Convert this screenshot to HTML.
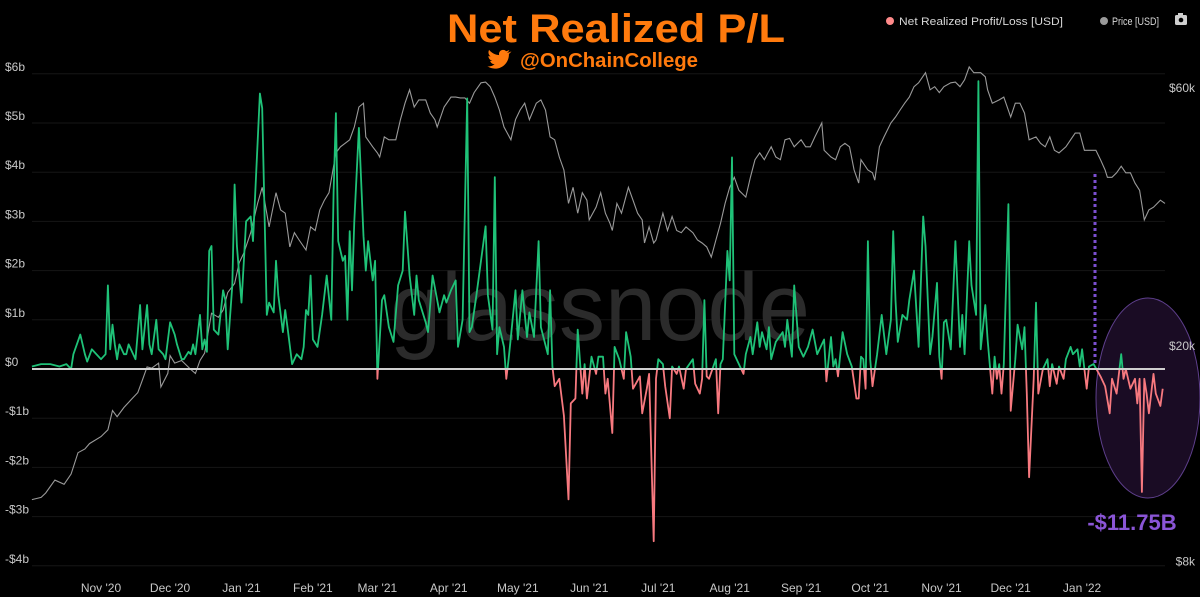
<!DOCTYPE html>
<html><head><meta charset="utf-8"><style>
html,body{margin:0;padding:0;background:#000;}
svg{display:block;font-family:"Liberation Sans",sans-serif;}
</style></head><body>
<svg id="chart" width="1200" height="597" viewBox="0 0 1200 597" xmlns="http://www.w3.org/2000/svg">
<rect width="1200" height="597" fill="#000"/>
<g id="grid"></g>
<text x="600" y="340" text-anchor="middle" font-size="96" fill="#2b2b2b" textLength="420" lengthAdjust="spacingAndGlyphs">glassnode</text>
<g id="annot-bg">
<ellipse cx="1148" cy="398" rx="52" ry="100" fill="#1a0c24" stroke="#5e3f8c" stroke-width="1"/>
</g>
<defs>
<clipPath id="clipPos"><rect x="0" y="0" width="1200" height="369"/></clipPath>
<clipPath id="clipNeg"><rect x="0" y="369" width="1200" height="300"/></clipPath>
</defs>
<g id="series"></g>
<line x1="1095" y1="174" x2="1095" y2="366" stroke="#7b4fd0" stroke-width="3" stroke-dasharray="3,3"/>
<text x="1132" y="530" text-anchor="middle" font-size="22" font-weight="bold" fill="#8a55d6">-$11.75B</text>
<g id="axes"></g>
<text x="616" y="42" text-anchor="middle" font-size="40" font-weight="bold" fill="#ff7a0d" textLength="338" lengthAdjust="spacingAndGlyphs">Net Realized P/L</text>
<g>
<path d="M510 52 c-1 .5 -2 .8 -3 .9 1-.7 2-1.7 2.3-2.9 -1 .6 -2 1 -3.2 1.2 -2-2.1-5.6-1.5-6.8 1.2 -.4 .9 -.4 1.9 -.2 2.7 -4.1-.2 -7.6-2.2-10-5.2 -1.3 2.300 -.6 5.1 1.5 6.6 -.8 0 -1.5-.3 -2.2-.6 0 2.4 1.6 4.4 3.9 4.9 -.7 .2 -1.5 .2 -2.2 .1 .6 2 2.5 3.4 4.6 3.4 -2 1.6 -4.6 2.4 -7.3 2.1 2.2 1.4 4.8 2.2 7.5 2.2 9.1 0 14.3-7.7 14-14.6 1-.7 1.8-1.6 2.5-2.6z" fill="#ff7a0d"/>
<text x="609" y="67" text-anchor="middle" font-size="20" font-weight="bold" fill="#ff7a0d" textLength="178" lengthAdjust="spacingAndGlyphs">@OnChainCollege</text>
</g>
<g>
<g>
<circle cx="890" cy="21" r="4" fill="#ff8a8a"/>
<text x="899" y="25" font-size="11" fill="#d8d8d8" textLength="164" lengthAdjust="spacingAndGlyphs">Net Realized Profit/Loss [USD]</text>
</g>
<g>
<circle cx="1104" cy="21" r="4" fill="#9a9a9a"/>
<text x="1112" y="25" font-size="11" fill="#d8d8d8" textLength="47" lengthAdjust="spacingAndGlyphs">Price [USD]</text>
</g>
<g>
<rect x="1175" y="15" width="12" height="10" rx="1.5" fill="#cfcfcf"/>
<rect x="1178" y="13" width="5" height="3" fill="#cfcfcf"/>
<circle cx="1181" cy="20" r="2.3" fill="#000"/>
</g>
</g>
</svg>
<script>
// P/L: days since 2020-10-01, values in $ billions
const plDays=[1,5,9,13,16,18,19,22,24,25,27,29,31,33,34,35,36,37,38,39,41,42,43,45,46,48,49,51,52,53,55,56,58,59,61,63,64,66,67,69,70,71,72,74,75,76,77,78,79,80,82,84,85,86,88,89,90,92,94,96,97,100,101,103,104,106,107,108,110,111,112,114,116,118,119,120,121,122,123,125,127,129,131,132,133,134,136,137,138,139,140,141,143,145,146,147,149,150,151,153,154,156,158,160,162,163,165,167,168,169,172,173,175,177,178,180,181,183,185,186,188,190,191,192,194,196,198,199,201,202,203,204,206,207,208,209,211,212,214,216,217,219,221,222,225,226,227,228,230,232,234,235,237,238,240,241,242,244,246,247,249,250,251,253,254,256,258,259,261,262,265,266,268,269,271,272,273,275,276,278,279,281,282,284,285,288,289,291,292,293,294,295,298,299,300,301,303,304,305,306,308,310,311,313,314,316,317,318,320,321,322,324,327,328,329,331,332,334,336,338,340,342,345,346,348,349,350,351,353,355,357,359,360,361,362,363,364,365,366,368,370,372,374,375,376,377,379,381,382,384,386,388,389,391,392,394,395,396,397,398,400,402,404,405,406,408,409,411,412,413,415,416,418,419,420,421,422,423,425,426,428,429,431,432,433,434,436,437,438,440,442,443,444,446,447,449,450,452,453,455,456,457,459,460,462,465,467,469,470,472,474,475,476,478,480,481,482,483,484,485,486,488,489,491,492];
const plVals=[0.05,0.1,0.1,0.05,0.1,0,0.3,0.7,0.3,0.15,0.4,0.3,0.2,0.3,1.7,0.4,0.9,0.5,0.2,0.5,0.3,0.3,0.5,0.3,0.2,1.3,0.4,1.3,0.5,0.3,1.0,0.4,0.3,0.2,0.95,0.7,0.5,0.2,0.2,0.35,0.3,0.5,0.3,1.1,0.4,0.6,0.35,2.4,2.5,0.8,0.7,1.6,1.4,0.4,1.7,3.75,2.5,1.35,3.0,3.1,2.6,5.6,5.3,1.1,1.35,1.15,2.2,1.5,0.75,1.2,0.85,0.1,0.3,0.2,0.45,1.2,1.1,1.9,0.6,0.45,1.1,1.9,1.0,3.6,5.2,2.6,2.2,2.3,1.0,2.8,1.6,3.0,4.9,2.7,2.0,2.6,1.8,2.2,-0.2,1.4,1.5,0.85,0.55,1.7,2.0,3.2,1.9,1.1,1.9,1.4,0.95,0.75,1.9,1.4,1.15,1.5,1.35,1.6,1.8,0.45,1.0,5.5,0.75,0.85,1.5,2.2,2.9,1.5,0.8,3.9,0.3,0.85,0.45,-0.2,0.2,0.65,1.6,0.6,1.6,0.65,1.15,0.65,2.6,0.85,0.3,1.6,0.05,-0.35,-0.2,-0.95,-2.65,-0.7,-0.6,0.8,-0.5,0.1,-0.6,0.25,-0.1,0.25,0.25,-0.5,-0.2,-1.3,0.45,0.2,-0.2,0.75,0.25,-0.4,-0.15,-0.9,-0.4,-0.1,-3.5,-0.2,0.2,0.1,-0.35,-1.0,0.05,-0.1,0.05,-0.4,0,0.2,-0.3,-0.5,-0.2,1.4,-0.15,-0.2,0.2,-0.9,0.1,0.2,2.4,1.8,4.3,0.3,0.1,-0.1,0.3,0.65,0.3,0.95,0.45,0.75,0.4,0.85,0.2,0.55,0.75,0.45,1.0,0.25,1.7,0.45,0.25,0.45,0.8,0.3,0.6,-0.25,0.65,0.05,0.2,-0.15,0.75,0.3,0.05,-0.6,-0.6,0.25,0.2,-0.4,2.6,0.2,-0.35,0.3,1.1,0.3,1.0,2.8,1.4,0.55,1.1,1.0,1.4,2.0,0.45,3.1,2.5,0.3,0.65,1.75,0.25,-0.2,0.95,1.0,0.4,2.6,0.45,1.1,0.3,2.6,1.7,1.1,5.85,0.4,1.3,0.6,-0.5,0.25,-0.2,0.1,-0.5,0.1,3.35,-0.85,0.2,0.9,0.4,0.85,-0.5,-2.2,-0.2,1.35,-0.5,0,0.2,-0.35,0.1,-0.3,0.05,-0.2,0.2,0.45,0.3,0.4,0.05,0.4,-0.4,0.05,0.1,-0.15,-0.35,-0.9,-0.2,-0.5,0.3,-0.2,0,-0.4,-0.2,-0.7,-0.2,-2.5,-0.2,-0.5,-0.9,-0.1,-0.5,-0.75,-0.4];
// Price: days since 2020-10-01, values in $k
const priceDays=[1,5,7,11,15,18,21,24,26,31,34,36,38,41,44,47,49,51,53,56,57,60,61,63,66,70,72,74,76,79,82,84,86,89,91,93,96,99,101,102,104,107,109,111,113,115,117,120,122,124,126,128,130,133,135,137,139,141,143,145,146,149,151,152,154,156,159,161,163,165,167,169,172,174,176,177,180,183,185,187,189,191,193,196,198,200,202,204,206,209,211,213,215,217,220,222,224,226,228,230,232,234,236,238,240,242,243,246,248,250,252,253,255,257,260,262,264,266,267,269,271,272,275,277,279,281,283,285,288,290,292,294,296,298,300,302,304,306,308,311,313,315,317,319,322,324,326,328,330,332,335,337,339,341,344,345,348,350,352,354,356,358,360,361,364,366,367,369,371,374,376,378,380,382,384,386,389,391,393,395,397,400,402,404,406,408,410,413,415,416,418,421,423,426,428,430,432,434,437,439,441,443,445,447,450,452,454,456,458,460,463,465,467,468,470,472,474,476,478,480,482,484,486,488,491,493];
const priceVals=[10.4,10.5,10.7,11.3,11.1,11.6,12.7,12.9,13.2,13.6,14.0,15.2,14.8,15.4,15.9,16.4,17.3,18.3,18.2,18.6,16.8,17.8,19.2,18.6,18.8,18.1,17.8,18.8,19.4,23.0,22.6,23.3,25.1,26.1,28.5,29.7,32.4,36.7,39.3,37.2,33.2,38.4,35.7,35.2,30.5,32.4,31.4,30.1,33.2,32.7,35.7,37.2,38.4,45.5,46.7,47.4,48.1,50.8,55.3,56.2,48.7,46.7,45.5,44.7,48.7,48.1,48.1,52.4,56.2,59.5,55.3,57.0,57.0,53.9,52.4,50.8,55.3,57.7,57.7,57.5,57.5,56.2,58.8,61.3,61.5,60.3,57.7,54.6,50.8,48.1,52.4,54.6,56.2,52.4,56.2,57.0,54.6,48.7,48.1,44.7,42.3,36.7,39.3,35.2,38.4,37.2,34.2,36.1,38.4,35.2,33.7,32.7,36.7,35.2,39.3,37.2,35.2,34.2,31.0,33.2,31.0,31.4,35.2,32.7,34.7,32.7,32.4,33.2,32.4,31.4,31.0,30.5,29.2,31.4,33.7,36.7,39.3,41.0,38.8,37.7,41.0,44.2,45.5,44.2,46.7,44.7,44.2,48.1,48.4,46.7,48.1,46.7,46.7,48.7,51.7,46.0,44.7,44.2,46.7,47.4,46.7,42.3,40.0,44.2,42.3,41.8,40.5,46.7,48.7,51.7,53.0,54.6,56.2,57.7,60.3,61.3,64.0,59.5,60.3,58.8,60.3,61.3,61.5,60.3,62.1,65.6,64.0,64.0,62.9,59.5,56.2,57.0,57.7,53.0,56.2,56.2,53.9,48.1,48.7,47.4,46.7,48.7,46.0,45.5,46.7,48.1,49.5,49.5,46.0,46.0,46.0,44.2,42.3,41.0,41.0,41.8,43.0,41.8,41.8,40.0,38.8,34.2,35.7,36.1,37.2,36.7];
const leftTicks=[6,5,4,3,2,1,0,-1,-2,-3,-4];
const leftTickLabels=["$6b","$5b","$4b","$3b","$2b","$1b","$0","-$1b","-$2b","-$3b","-$4b"];
const rightTicks=[60,20,8];
const rightTickLabels=["$60k","$20k","$8k"];
const monthDays=[31,61,92,123,151,182,212,243,273,304,335,365,396,426,457];
const monthLabels=["Nov '20","Dec '20","Jan '21","Feb '21","Mar '21","Apr '21","May '21","Jun '21","Jul '21","Aug '21","Sep '21","Oct '21","Nov '21","Dec '21","Jan '22"];

const NS="http://www.w3.org/2000/svg";
const xS=d=>29.6+d*2.303;
const yL=v=>369-v*49.2;
const yR=p=>346-541*Math.log10(p/20);
const mk=(t,a,parent)=>{const e=document.createElementNS(NS,t);for(const k in a)e.setAttribute(k,a[k]);parent.appendChild(e);return e;};

const grid=document.getElementById('grid');
leftTicks.forEach((v,i)=>{
  if(v===0)return;
  const l=mk('line',{x1:32,x2:1165,y1:yL(v),y2:yL(v),stroke:'#161616','stroke-width':1},grid);
  
  
});
const axes=document.getElementById('axes');
leftTicks.forEach((v,i)=>{
  const t=mk('text',{x:5,y:yL(v)-3,'font-size':12,fill:'#c8c8c8'},axes);
  t.textContent=leftTickLabels[i];
  
  
});
rightTicks.forEach((v,i)=>{
  const t=mk('text',{x:1195,y:yR(v)+4,'font-size':12,fill:'#c8c8c8','text-anchor':'end'},axes);
  t.textContent=rightTickLabels[i];
  
  
});
monthDays.forEach((d,i)=>{
  const t=mk('text',{x:xS(d),y:592,'font-size':12,fill:'#c8c8c8','text-anchor':'middle'},axes);
  t.textContent=monthLabels[i];
  
  
});

const series=document.getElementById('series');
const pricePts=priceDays.map((d,i)=>xS(d).toFixed(1)+','+yR(priceVals[i]).toFixed(1)).join(' ');
const pl=mk('polyline',{points:pricePts,fill:'none',stroke:'#9a9a9a','stroke-width':1.1},series);



const plPts=plDays.map((d,i)=>xS(d).toFixed(1)+','+yL(plVals[i]).toFixed(1)).join(' ');
const pos=mk('polyline',{points:plPts,fill:'none',stroke:'#1fc278','stroke-width':1.8,'stroke-linejoin':'round','clip-path':'url(#clipPos)'},series);


const neg=mk('polyline',{points:plPts,fill:'none',stroke:'#f7797f','stroke-width':1.8,'stroke-linejoin':'round','clip-path':'url(#clipNeg)'},series);


const zl=mk('line',{x1:32,x2:1165,y1:yL(0),y2:yL(0),stroke:'#cfcfcf','stroke-width':2},series);


</script>
</body></html>
